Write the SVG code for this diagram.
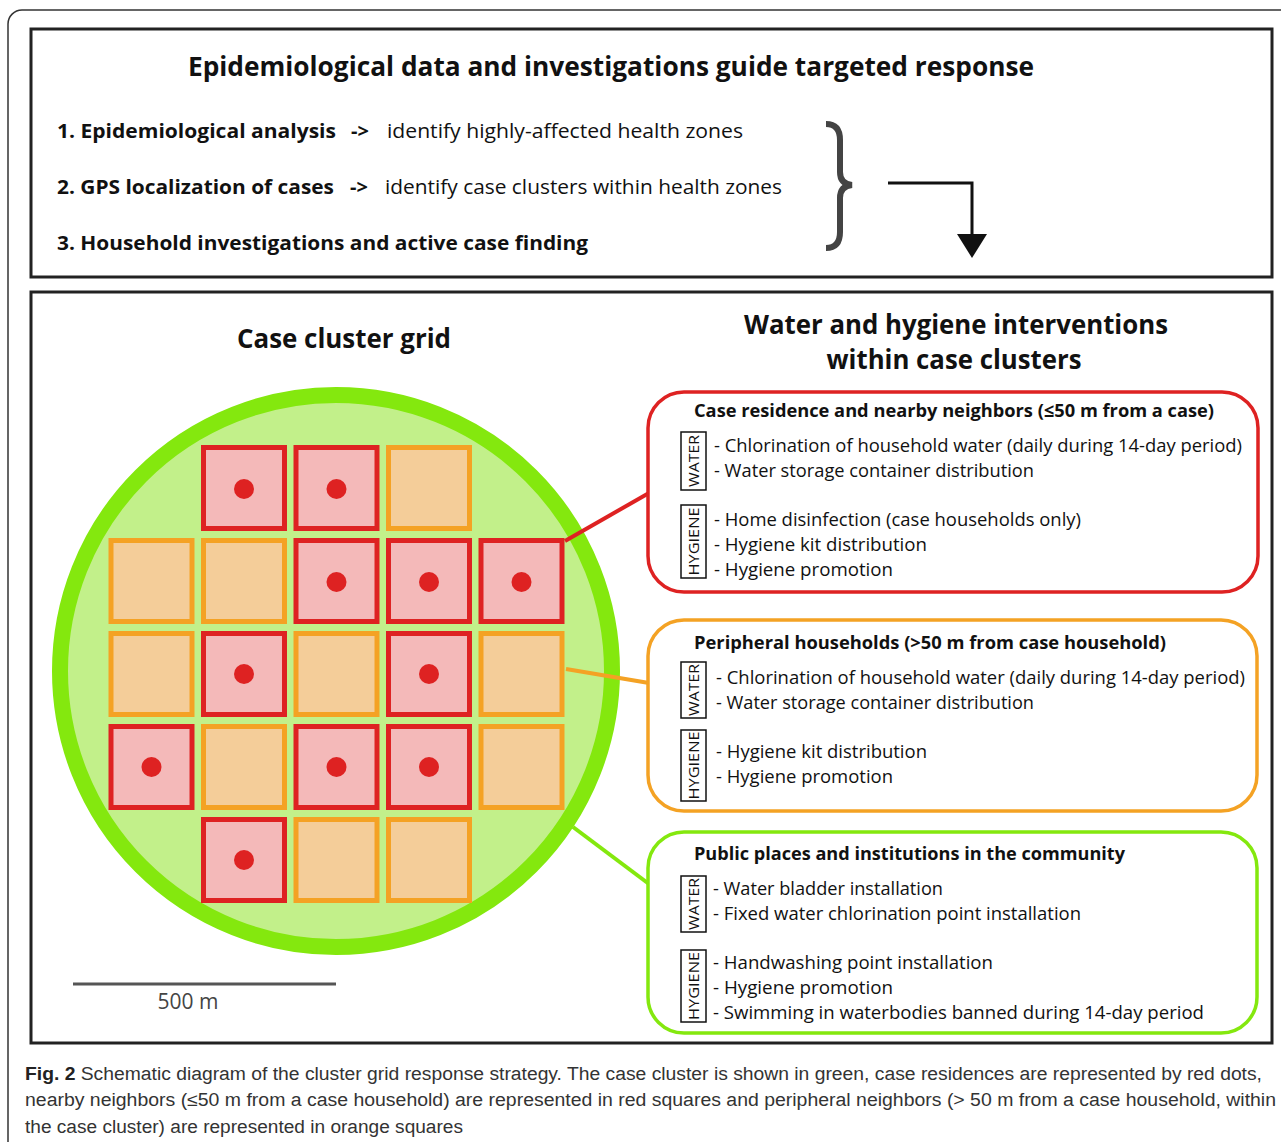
<svg xmlns="http://www.w3.org/2000/svg" width="1281" height="1142" viewBox="0 0 1281 1142">
<style>
.frame{fill:none;stroke:#222;stroke-width:3}
.h1{font-family:"Open Sans","Liberation Sans",sans-serif;font-weight:bold;font-size:26px;fill:#111}
.b{font-family:"Open Sans","Liberation Sans",sans-serif;font-weight:bold;font-size:20px;fill:#111}
.r{font-family:"Open Sans","Liberation Sans",sans-serif;font-size:20px;fill:#111}
.bt{font-family:"Open Sans","Liberation Sans",sans-serif;font-weight:bold;font-size:18px;fill:#111}
.it{font-family:"Open Sans","Liberation Sans",sans-serif;font-size:19px;fill:#111}
.lab{font-family:"Open Sans","Liberation Sans",sans-serif;font-size:15px;fill:#111}
.lbox{fill:none;stroke:#111;stroke-width:1.5}
.cap{font-family:"Liberation Sans",sans-serif;font-size:18px;fill:#333}
.red rect{fill:#f4b9b9;stroke:#de2222;stroke-width:5}
.red circle{fill:#de2222}
.org rect{fill:#f4cd99;stroke:#f4a224;stroke-width:5}
</style>
<rect width="1281" height="1142" fill="#fff"/>
<rect x="8" y="10" width="1310" height="1200" rx="14" fill="none" stroke="#333" stroke-width="1.5"/>

<g id="top-box">
<rect class="frame" x="31" y="29" width="1241" height="248"/>
<text class="h1" x="188" y="76" textLength="846" lengthAdjust="spacingAndGlyphs">Epidemiological data and investigations guide targeted response</text>
<text class="b" x="57" y="138" textLength="279" lengthAdjust="spacingAndGlyphs">1. Epidemiological analysis</text>
<text class="b" x="351" y="138">-&gt;</text>
<text class="r" x="387" y="138" textLength="356" lengthAdjust="spacingAndGlyphs">identify highly-affected health zones</text>
<text class="b" x="57" y="194" textLength="277" lengthAdjust="spacingAndGlyphs">2. GPS localization of cases</text>
<text class="b" x="350" y="194">-&gt;</text>
<text class="r" x="385" y="194" textLength="397" lengthAdjust="spacingAndGlyphs">identify case clusters within health zones</text>
<text class="b" x="57" y="250" textLength="531" lengthAdjust="spacingAndGlyphs">3. Household investigations and active case finding</text>
<path d="M826,124 Q840,124 840,140 L840,172 Q840,184 852,185 Q840,186 840,198 L840,232 Q840,248 826,248" fill="none" stroke="#444" stroke-width="6"/>
</g>

<g id="bottom-box">
<rect class="frame" x="31" y="292" width="1241" height="751"/>
<text class="h1" x="344" y="348" text-anchor="middle" textLength="214" lengthAdjust="spacingAndGlyphs">Case cluster grid</text>
<text class="h1" x="956" y="334" text-anchor="middle" textLength="424" lengthAdjust="spacingAndGlyphs">Water and hygiene interventions</text>
<text class="h1" x="954" y="369" text-anchor="middle" textLength="255" lengthAdjust="spacingAndGlyphs">within case clusters</text>
</g>

<g id="cluster">
<circle cx="336" cy="671" r="276" fill="#c2f08a" stroke="#84e80e" stroke-width="16"/>
</g>

<g id="connectors">
<path d="M888,183 H972 V236" fill="none" stroke="#111" stroke-width="3"/>
<polygon points="957,234 987,234 972,258" fill="#111"/>
<line x1="565" y1="541" x2="649" y2="493" stroke="#de2222" stroke-width="4"/>
<line x1="566" y1="669" x2="649" y2="683" stroke="#f4a224" stroke-width="4"/>
<line x1="573" y1="827" x2="649" y2="884" stroke="#84e80e" stroke-width="4"/>
</g>

<g id="grid">
<g class="red"><rect x="203.5" y="447.5" width="81" height="81"/><circle cx="244" cy="489" r="10"/></g>
<g class="red"><rect x="296" y="447.5" width="81" height="81"/><circle cx="336.5" cy="489" r="10"/></g>
<g class="org"><rect x="388.5" y="447.5" width="81" height="81"/></g>

<g class="org"><rect x="111" y="540.5" width="81" height="81"/></g>
<g class="org"><rect x="203.5" y="540.5" width="81" height="81"/></g>
<g class="red"><rect x="296" y="540.5" width="81" height="81"/><circle cx="336.5" cy="582" r="10"/></g>
<g class="red"><rect x="388.5" y="540.5" width="81" height="81"/><circle cx="429" cy="582" r="10"/></g>
<g class="red"><rect x="481" y="540.5" width="81" height="81"/><circle cx="521.5" cy="582" r="10"/></g>

<g class="org"><rect x="111" y="633.5" width="81" height="81"/></g>
<g class="red"><rect x="203.5" y="633.5" width="81" height="81"/><circle cx="244" cy="674" r="10"/></g>
<g class="org"><rect x="296" y="633.5" width="81" height="81"/></g>
<g class="red"><rect x="388.5" y="633.5" width="81" height="81"/><circle cx="429" cy="674" r="10"/></g>
<g class="org"><rect x="481" y="633.5" width="81" height="81"/></g>

<g class="red"><rect x="111" y="726.5" width="81" height="81"/><circle cx="151.5" cy="767" r="10"/></g>
<g class="org"><rect x="203.5" y="726.5" width="81" height="81"/></g>
<g class="red"><rect x="296" y="726.5" width="81" height="81"/><circle cx="336.5" cy="767" r="10"/></g>
<g class="red"><rect x="388.5" y="726.5" width="81" height="81"/><circle cx="429" cy="767" r="10"/></g>
<g class="org"><rect x="481" y="726.5" width="81" height="81"/></g>

<g class="red"><rect x="203.5" y="819.5" width="81" height="81"/><circle cx="244" cy="860" r="10"/></g>
<g class="org"><rect x="296" y="819.5" width="81" height="81"/></g>
<g class="org"><rect x="388.5" y="819.5" width="81" height="81"/></g>
</g>

<g id="scale">
<line x1="73" y1="984" x2="336" y2="984" stroke="#555" stroke-width="3"/>
<text x="188" y="1009" text-anchor="middle" font-family="Open Sans, Liberation Sans, sans-serif" font-size="21" fill="#444">500 m</text>
</g>

<g id="box-red">
<rect x="648" y="392" width="610" height="200" rx="36" fill="#fff" stroke="#de2222" stroke-width="3.5"/>
<text class="bt" x="694" y="417" textLength="520" lengthAdjust="spacingAndGlyphs">Case residence and nearby neighbors (≤50 m from a case)</text>
<rect class="lbox" x="681" y="432" width="25" height="58"/>
<text class="lab" transform="translate(699,461) rotate(-90)" text-anchor="middle" textLength="52" lengthAdjust="spacingAndGlyphs">WATER</text>
<text class="it" x="714" y="452" textLength="528" lengthAdjust="spacingAndGlyphs">- Chlorination of household water (daily during 14-day period)</text>
<text class="it" x="714" y="477" textLength="320" lengthAdjust="spacingAndGlyphs">- Water storage container distribution</text>
<rect class="lbox" x="681" y="505" width="25" height="73"/>
<text class="lab" transform="translate(699,541.5) rotate(-90)" text-anchor="middle" textLength="68" lengthAdjust="spacingAndGlyphs">HYGIENE</text>
<text class="it" x="714" y="526" textLength="367" lengthAdjust="spacingAndGlyphs">- Home disinfection (case households only)</text>
<text class="it" x="714" y="551" textLength="213" lengthAdjust="spacingAndGlyphs">- Hygiene kit distribution</text>
<text class="it" x="714" y="576" textLength="179" lengthAdjust="spacingAndGlyphs">- Hygiene promotion</text>
</g>

<g id="box-orange">
<rect x="648" y="620" width="609" height="191" rx="36" fill="#fff" stroke="#f4a224" stroke-width="3.5"/>
<text class="bt" x="694" y="649" textLength="472" lengthAdjust="spacingAndGlyphs">Peripheral households (&gt;50 m from case household)</text>
<rect class="lbox" x="681" y="662" width="25" height="56"/>
<text class="lab" transform="translate(699,690) rotate(-90)" text-anchor="middle" textLength="52" lengthAdjust="spacingAndGlyphs">WATER</text>
<text class="it" x="716" y="684" textLength="529" lengthAdjust="spacingAndGlyphs">- Chlorination of household water (daily during 14-day period)</text>
<text class="it" x="716" y="709" textLength="318" lengthAdjust="spacingAndGlyphs">- Water storage container distribution</text>
<rect class="lbox" x="681" y="730" width="25" height="71"/>
<text class="lab" transform="translate(699,765.5) rotate(-90)" text-anchor="middle" textLength="68" lengthAdjust="spacingAndGlyphs">HYGIENE</text>
<text class="it" x="716" y="758" textLength="211" lengthAdjust="spacingAndGlyphs">- Hygiene kit distribution</text>
<text class="it" x="716" y="783" textLength="177" lengthAdjust="spacingAndGlyphs">- Hygiene promotion</text>
</g>

<g id="box-green">
<rect x="648" y="832" width="609" height="201" rx="36" fill="#fff" stroke="#84e80e" stroke-width="3.5"/>
<text class="bt" x="694" y="860" textLength="431" lengthAdjust="spacingAndGlyphs">Public places and institutions in the community</text>
<rect class="lbox" x="681" y="876" width="25" height="56"/>
<text class="lab" transform="translate(699,904) rotate(-90)" text-anchor="middle" textLength="52" lengthAdjust="spacingAndGlyphs">WATER</text>
<text class="it" x="713" y="895" textLength="230" lengthAdjust="spacingAndGlyphs">- Water bladder installation</text>
<text class="it" x="713" y="920" textLength="368" lengthAdjust="spacingAndGlyphs">- Fixed water chlorination point installation</text>
<rect class="lbox" x="681" y="950" width="25" height="72"/>
<text class="lab" transform="translate(699,986) rotate(-90)" text-anchor="middle" textLength="68" lengthAdjust="spacingAndGlyphs">HYGIENE</text>
<text class="it" x="713" y="969" textLength="280" lengthAdjust="spacingAndGlyphs">- Handwashing point installation</text>
<text class="it" x="713" y="994" textLength="180" lengthAdjust="spacingAndGlyphs">- Hygiene promotion</text>
<text class="it" x="713" y="1019" textLength="491" lengthAdjust="spacingAndGlyphs">- Swimming in waterbodies banned during 14-day period</text>
</g>

<g id="caption">
<text class="cap" x="25" y="1080" textLength="1237" lengthAdjust="spacingAndGlyphs"><tspan font-weight="bold" fill="#222">Fig. 2</tspan> Schematic diagram of the cluster grid response strategy. The case cluster is shown in green, case residences are represented by red dots,</text>
<text class="cap" x="25" y="1106" textLength="1251" lengthAdjust="spacingAndGlyphs">nearby neighbors (≤50 m from a case household) are represented in red squares and peripheral neighbors (&gt; 50 m from a case household, within</text>
<text class="cap" x="25" y="1133" textLength="438" lengthAdjust="spacingAndGlyphs">the case cluster) are represented in orange squares</text>
</g>
</svg>
